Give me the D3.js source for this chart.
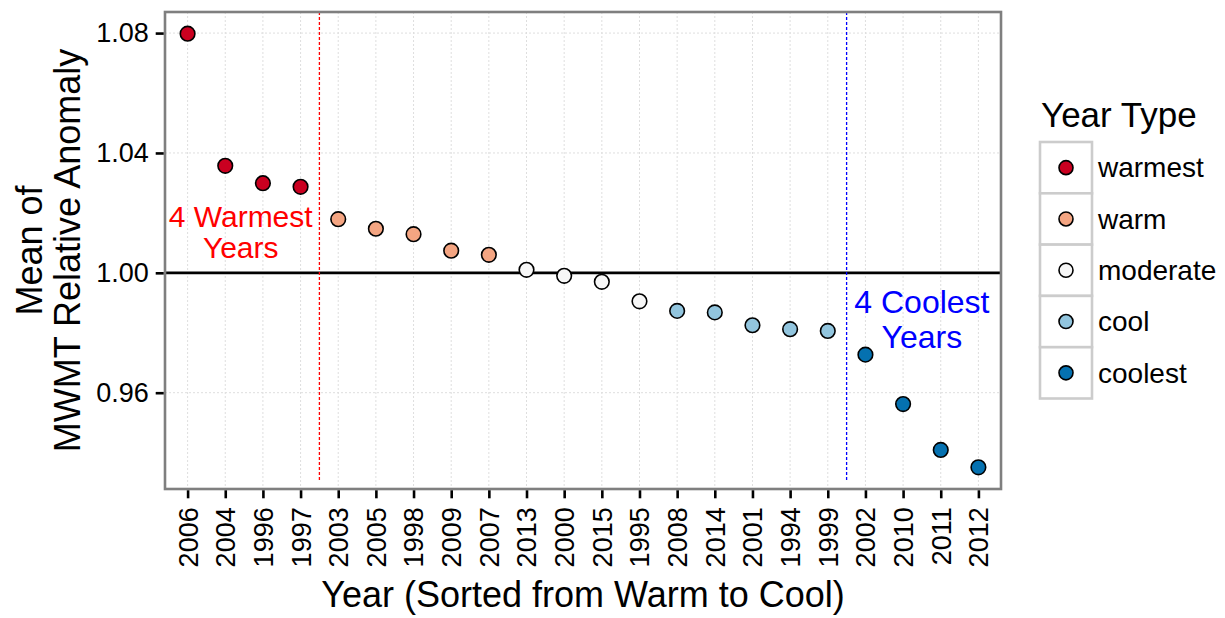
<!DOCTYPE html>
<html>
<head>
<meta charset="utf-8">
<script src="https://cdn.jsdelivr.net/npm/d3@7"></script>
<style>
  html, body { margin: 0; padding: 0; background: #ffffff; }
  svg { display: block; font-family: "Liberation Sans", Arial, Helvetica, sans-serif; }
</style>
</head>
<body>
<svg id="chart" width="1225" height="618"></svg>
<script>
// Years sorted from warmest to coolest, with their mean MWMT relative anomaly
const years = ["2006","2004","1996","1997","2003","2005","1998","2009","2007","2013","2000",
               "2015","1995","2008","2014","2001","1994","1999","2002","2010","2011","2012"];
const anomaly = [1.0798, 1.0357, 1.0299, 1.0287, 1.0179, 1.0147, 1.0129, 1.0074, 1.0060, 1.0010, 0.9990,
                 0.9970, 0.9905, 0.9873, 0.9868, 0.9825, 0.9812, 0.9806, 0.9727, 0.9562, 0.9409, 0.9351];
const yearType = ["warmest","warmest","warmest","warmest","warm","warm","warm","warm","warm",
                  "moderate","moderate","moderate","moderate","cool","cool","cool","cool","cool",
                  "coolest","coolest","coolest","coolest"];
const typeLevels = ["warmest","warm","moderate","cool","coolest"];
const typeColors = ["#ca0020","#f4a582","#f7f7f7","#92c5de","#0571b0"];
const yTicks = [0.96, 1.00, 1.04, 1.08];

const data = years.map((y, i) => ({ year: y, value: anomaly[i], type: yearType[i] }));

const svg = d3.select("#chart");
const panel = { left: 165, right: 1001, top: 12, bottom: 489 };

// discrete x axis with ggplot-style 0.6 step padding
const x = d3.scalePoint().domain(years).range([panel.left, panel.right]).padding(0.6);
const step = x.step();
const xAt = pos => x(years[0]) + (pos - 1) * step; // 1-based numeric position

// continuous y with 5% expansion of the data range
const [ymin, ymax] = d3.extent(anomaly);
const pad = (ymax - ymin) * 0.05;
const y = d3.scaleLinear().domain([ymin - pad, ymax + pad]).range([panel.bottom, panel.top]);

const color = d3.scaleOrdinal().domain(typeLevels).range(typeColors);

// panel background
svg.append("rect")
  .attr("x", panel.left).attr("y", panel.top)
  .attr("width", panel.right - panel.left).attr("height", panel.bottom - panel.top)
  .attr("fill", "#ffffff");

// grid lines
const grid = svg.append("g").attr("stroke", "#dedede").attr("stroke-width", 1)
  .attr("stroke-dasharray", "2,2");
grid.selectAll("line.gx").data(years).join("line")
  .attr("x1", d => x(d)).attr("x2", d => x(d))
  .attr("y1", panel.top).attr("y2", panel.bottom);
grid.selectAll("line.gy").data(yTicks).join("line")
  .attr("x1", panel.left).attr("x2", panel.right)
  .attr("y1", d => y(d)).attr("y2", d => y(d));

// reference line at 1.00
svg.append("line")
  .attr("x1", panel.left).attr("x2", panel.right)
  .attr("y1", y(1)).attr("y2", y(1))
  .attr("stroke", "#000000").attr("stroke-width", 2.6);

// separators for the warmest and coolest groups
const vEnd = 0.9305;
svg.append("line")
  .attr("x1", xAt(4.5)).attr("x2", xAt(4.5))
  .attr("y1", panel.top).attr("y2", y(vEnd))
  .attr("stroke", "#ff0000").attr("stroke-width", 1.3).attr("stroke-dasharray", "3,2");
svg.append("line")
  .attr("x1", xAt(18.5)).attr("x2", xAt(18.5))
  .attr("y1", panel.top).attr("y2", y(vEnd))
  .attr("stroke", "#0000ff").attr("stroke-width", 1.3).attr("stroke-dasharray", "3,2");

// annotations
const warmLabel = svg.append("text")
  .attr("x", xAt(2.41)).attr("y", y(1.0154))
  .attr("text-anchor", "middle").attr("fill", "#ff0000").attr("font-size", 30);
warmLabel.append("tspan").attr("x", xAt(2.41)).attr("dy", 0).text("4 Warmest");
warmLabel.append("tspan").attr("x", xAt(2.41)).attr("dy", 31).text("Years");

const coolLabel = svg.append("text")
  .attr("x", xAt(20.5)).attr("y", y(0.9865))
  .attr("text-anchor", "middle").attr("fill", "#0000ff").attr("font-size", 32);
coolLabel.append("tspan").attr("x", xAt(20.5)).attr("dy", 0).text("4 Coolest");
coolLabel.append("tspan").attr("x", xAt(20.5)).attr("dy", 35).text("Years");

// points
svg.append("g").selectAll("circle").data(data).join("circle")
  .attr("cx", d => x(d.year)).attr("cy", d => y(d.value)).attr("r", 7.3)
  .attr("fill", d => color(d.type)).attr("stroke", "#000000").attr("stroke-width", 1.6);

// panel border
svg.append("rect")
  .attr("x", panel.left).attr("y", panel.top)
  .attr("width", panel.right - panel.left).attr("height", panel.bottom - panel.top)
  .attr("fill", "none").attr("stroke", "#7f7f7f").attr("stroke-width", 2.6);

// y axis
const yAxis = svg.append("g")
  .attr("transform", `translate(${panel.left - 1.3},0)`)
  .call(d3.axisLeft(y).tickValues(yTicks).tickFormat(d3.format(".2f")).tickSize(8).tickPadding(7));
yAxis.select(".domain").remove();
yAxis.selectAll(".tick line").attr("stroke", "#000000").attr("stroke-width", 2.6);
yAxis.selectAll(".tick text").attr("fill", "#000000").attr("font-size", 27)
  .attr("font-family", "Liberation Sans, Arial, sans-serif");

// x axis
const xAxis = svg.append("g")
  .attr("transform", `translate(0,${panel.bottom + 1.3})`)
  .call(d3.axisBottom(x).tickSize(8).tickPadding(7));
xAxis.select(".domain").remove();
xAxis.selectAll(".tick line").attr("stroke", "#000000").attr("stroke-width", 2.6);
xAxis.selectAll(".tick text")
  .attr("fill", "#000000").attr("font-size", 27)
  .attr("font-family", "Liberation Sans, Arial, sans-serif")
  .attr("transform", "rotate(-90)")
  .attr("text-anchor", "end")
  .attr("x", -17).attr("y", 0).attr("dy", "0.35em");

// axis titles
svg.append("text")
  .attr("x", (panel.left + panel.right) / 2).attr("y", 607)
  .attr("text-anchor", "middle").attr("font-size", 36).attr("fill", "#000000")
  .text("Year (Sorted from Warm to Cool)");

const yTitle = svg.append("text")
  .attr("transform", `translate(0,${(panel.top + panel.bottom) / 2}) rotate(-90)`)
  .attr("text-anchor", "middle").attr("font-size", 36).attr("fill", "#000000");
yTitle.append("tspan").attr("x", 0).attr("y", 41.5).text("Mean of");
yTitle.append("tspan").attr("x", 0).attr("y", 79.5).text("MWMT Relative Anomaly");

// legend
const legend = svg.append("g").attr("transform", "translate(1040,0)");
legend.append("text").attr("x", 1).attr("y", 127)
  .attr("font-size", 35).attr("fill", "#000000").text("Year Type");
const keyH = 51.3, keyW = 52, keyTop = 142;
const rows = legend.selectAll("g.row").data(typeLevels).join("g")
  .attr("transform", (d, i) => `translate(0,${keyTop + i * keyH})`);
rows.append("rect")
  .attr("x", 0).attr("y", 0).attr("width", keyW).attr("height", keyH)
  .attr("fill", "#ffffff").attr("stroke", "#cccccc").attr("stroke-width", 2.6);
rows.append("circle")
  .attr("cx", keyW / 2).attr("cy", keyH / 2).attr("r", 7)
  .attr("fill", d => color(d)).attr("stroke", "#000000").attr("stroke-width", 1.6);
rows.append("text")
  .attr("x", keyW + 6).attr("y", keyH / 2).attr("dy", "0.35em")
  .attr("font-size", 28).attr("fill", "#000000").text(d => d);
</script>
</body>
</html>
